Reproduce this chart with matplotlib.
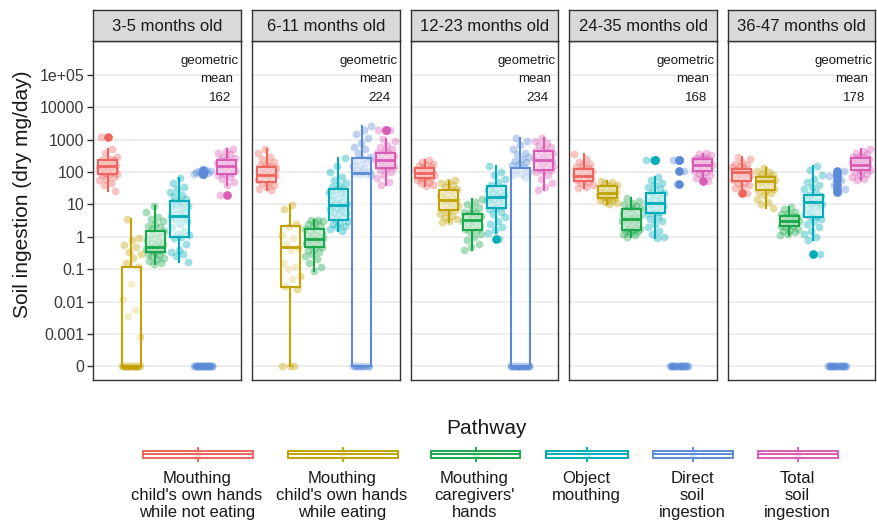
import numpy as np
import matplotlib
matplotlib.use("Agg")
import matplotlib.pyplot as plt
from matplotlib.patches import Rectangle

plt.rcParams['font.family'] = ['Liberation Sans', 'DejaVu Sans']

# ---------------- data ----------------
age_groups = ["3-5 months old", "6-11 months old", "12-23 months old",
              "24-35 months old", "36-47 months old"]
pathways = ["Mouthing\nchild's own hands\nwhile not eating",
            "Mouthing\nchild's own hands\nwhile eating",
            "Mouthing\ncaregivers'\nhands",
            "Object\nmouthing",
            "Direct\nsoil\ningestion",
            "Total\nsoil\ningestion"]
geo_means = [162, 224, 234, 168, 178]
y_ticks = [0, 0.001, 0.01, 0.1, 1, 10, 100, 1000, 10000, 100000]
y_tick_labels = ["0", "0.001", "0.01", "0.1", "1", "10", "100", "1000", "10000", "1e+05"]

# individual values (dry mg/day), per pathway, per age group
values_3_5m = [
    [1200, 500, 380, 300, 260, 240, 230, 210, 200, 190, 180, 170, 160, 155, 150, 145, 140,
     130, 125, 120, 115, 110, 100, 95, 90, 88, 80, 70, 60, 55, 45, 40, 26],
    [3.6, 0.9, 0.8, 0.55, 0.5, 0.35, 0.3, 0.22, 0.15, 0.12, 0.035, 0.012, 0.0055, 0.0035,
     0.0008, 0, 0, 0, 0, 0, 0, 0, 0, 0, 0, 0, 0, 0, 0, 0, 0, 0, 0, 0, 0],
    [9, 6, 4, 3.5, 3, 2.5, 2.2, 2, 1.8, 1.5, 1.3, 1.1, 1, 0.9, 0.8, 0.7, 0.65, 0.6, 0.55,
     0.5, 0.48, 0.45, 0.42, 0.4, 0.38, 0.36, 0.34, 0.3, 0.27, 0.25, 0.22, 0.2, 0.18, 0.16, 0.14],
    [65, 45, 35, 30, 25, 20, 18, 15, 13, 12, 11, 10, 9, 8, 7, 6, 5, 4.5, 4, 3.5, 3, 2.5, 2,
     1.5, 1.2, 1.1, 1, 0.9, 0.6, 0.4, 0.35, 0.3, 0.25, 0.17],
    [120, 110, 105, 100, 100, 95, 90, 85, 0, 0, 0, 0, 0, 0, 0, 0, 0, 0, 0, 0, 0, 0, 0, 0,
     0, 0, 0, 0, 0, 0, 0, 0],
    [515, 450, 380, 350, 300, 270, 250, 230, 210, 200, 190, 180, 170, 160, 150, 145, 140,
     130, 120, 110, 100, 95, 90, 80, 70, 60, 50, 40, 19],
]
values_6_11m = [
    [510, 400, 300, 250, 200, 180, 160, 150, 140, 130, 125, 120, 110, 100, 95, 90, 85, 80,
     75, 70, 65, 60, 55, 50, 45, 40, 35, 30, 28],
    [9.8, 7, 2.5, 2, 1.1, 0.9, 0.6, 0.45, 0.4, 0.15, 0.12, 0.1, 0.06, 0.05, 0.03, 0.025,
     0, 0, 0],
    [3.4, 3.2, 3, 2.8, 2.5, 2.2, 2, 1.8, 1.6, 1.5, 1.3, 1.2, 1.1, 1, 0.95, 0.9, 0.85, 0.8,
     0.75, 0.7, 0.65, 0.6, 0.55, 0.5, 0.45, 0.4, 0.35, 0.3, 0.25, 0.2, 0.15, 0.12, 0.085],
    [270, 150, 100, 70, 55, 45, 40, 35, 30, 28, 25, 22, 20, 18, 15, 14, 12, 11, 10, 9.5, 9,
     8.5, 8, 7, 6.5, 6, 5.5, 5, 4.5, 4, 3.5, 3, 2.7, 2.5, 2.2, 2, 1.8, 1.5],
    [2600, 2000, 1500, 1100, 800, 600, 500, 400, 300, 250, 220, 200, 170, 150, 130, 120,
     110, 100, 95, 90, 85, 80, 0, 0, 0, 0, 0, 0, 0, 0, 0, 0],
    [2000, 2000, 1050, 900, 700, 600, 500, 450, 400, 380, 350, 320, 300, 280, 260, 240, 230,
     220, 200, 190, 180, 170, 160, 150, 140, 130, 120, 100, 80, 65, 50, 40],
]
values_12_23m = [
    [240, 200, 180, 160, 150, 140, 130, 120, 115, 110, 105, 100, 95, 90, 85, 80, 75, 70, 65,
     60, 55, 50, 45, 40, 36],
    [55, 50, 45, 40, 35, 30, 28, 25, 22, 20, 18, 16, 15, 14, 13, 12, 11, 10, 9, 8, 7, 6.5, 6,
     5, 4.5, 4, 3.5, 3, 2.8],
    [15, 12, 10, 8, 7, 6, 5.5, 5, 4.5, 4, 3.8, 3.5, 3.2, 3, 2.8, 2.5, 2.2, 2, 1.8, 1.6, 1.4,
     1.2, 1, 0.8, 0.6, 0.5, 0.4],
    [150, 100, 80, 60, 50, 40, 35, 30, 28, 25, 22, 20, 18, 17, 16, 15, 14, 12, 10, 9, 8, 7,
     6, 5, 4, 3, 2.5, 2, 1.6, 1.3, 0.87],
    [1150, 900, 700, 500, 400, 350, 300, 250, 220, 200, 180, 160, 140, 120, 100, 90, 80, 70,
     0, 0, 0, 0, 0, 0, 0, 0, 0, 0, 0, 0, 0, 0, 0, 0, 0, 0, 0, 0, 0, 0, 0],
    [1130, 900, 800, 700, 600, 500, 450, 420, 400, 380, 350, 320, 300, 280, 260, 240, 230,
     220, 200, 190, 180, 160, 150, 140, 130, 120, 110, 100, 80, 60, 45, 35, 28],
]
values_24_35m = [
    [360, 250, 200, 180, 160, 140, 130, 120, 110, 100, 95, 90, 85, 80, 75, 70, 65, 60, 55,
     50, 45, 40, 35, 32],
    [52, 48, 45, 40, 38, 35, 33, 30, 28, 26, 25, 24, 23, 22, 21, 20, 19, 18, 17, 16, 15, 14,
     13, 12, 11, 10],
    [16, 13, 11, 10, 9, 8, 7.5, 7, 6.5, 6, 5.5, 5, 4.5, 4.2, 4, 3.8, 3.6, 3.4, 3.2, 3, 2.8,
     2.6, 2.4, 2.2, 2, 1.9, 1.8, 1.7, 1.6, 1.5, 1.4, 1.3, 1.2, 1.1, 1.0],
    [230, 230, 70, 55, 45, 40, 35, 30, 25, 22, 20, 18, 16, 14, 12, 11, 10, 9, 8, 7, 6, 5.5,
     5, 4, 3.5, 3, 2.5, 2, 1.5, 1.2, 1, 0.9],
    [230, 230, 105, 43, 0, 0, 0, 0, 0, 0, 0, 0, 0, 0, 0, 0, 0, 0, 0, 0, 0, 0, 0, 0],
    [400, 360, 330, 300, 280, 260, 250, 240, 230, 220, 210, 200, 190, 180, 170, 160, 150,
     140, 130, 120, 110, 100, 90, 80, 70, 65, 54],
]
values_36_47m = [
    [300, 250, 200, 180, 160, 150, 140, 130, 120, 110, 100, 95, 90, 85, 80, 75, 70, 65, 60,
     55, 50, 45, 40, 35, 32, 22],
    [130, 110, 100, 90, 80, 75, 70, 65, 60, 55, 52, 50, 48, 45, 42, 40, 35, 30, 27, 25, 22,
     20, 15, 12, 10, 7.8],
    [8.3, 7, 6, 5.5, 5, 4.5, 4.2, 4, 3.8, 3.6, 3.4, 3.2, 3.0, 2.9, 2.8, 2.6, 2.4, 2.2, 2.1,
     2, 1.8, 1.6, 1.5, 1.4, 1.2, 1.1],
    [150, 120, 80, 60, 50, 40, 35, 30, 25, 20, 18, 16, 14, 12, 11, 10, 9, 8, 7, 6, 5, 4.5, 4,
     3.5, 3, 2.5, 2, 1.5, 1.2, 1, 0.8, 0.29],
    [105, 90, 75, 55, 40, 30, 25, 0, 0, 0, 0, 0, 0, 0, 0, 0, 0, 0, 0, 0, 0, 0, 0, 0, 0,
     0, 0],
    [510, 450, 400, 350, 320, 300, 280, 260, 250, 240, 230, 220, 210, 200, 190, 180, 170,
     160, 150, 140, 130, 120, 110, 100, 90, 80, 70, 60, 55],
]

# box statistics: (whisker low, q1, median, q3, whisker high)
box_3_5m = [(26, 87, 150, 240, 500), (0, 0, 0, 0.115, 3.6), (0.14, 0.35, 0.5, 1.5, 9),
            (0.17, 1, 4.3, 13, 65), (0, 0, 0, 0, 0), (40, 87, 150, 240, 515)]
box_6_11m = [(28, 51, 83, 141, 510), (0, 0.029, 0.47, 2.1, 9.8), (0.085, 0.48, 0.87, 1.8, 3.4),
             (1.46, 3.4, 9.4, 30, 270), (0, 0, 94, 270, 2600), (40, 132, 230, 390, 1050)]
box_12_23m = [(36, 65, 93, 130, 240), (2.8, 6.5, 14, 28, 52), (0.4, 1.65, 3.4, 5.2, 15),
              (1.3, 7.7, 17, 36, 150), (0, 0, 0, 138, 1120), (28, 117, 230, 435, 1130)]
box_24_35m = [(32, 52, 77, 124, 360), (10, 16, 23, 36, 52), (1.0, 1.66, 3.6, 7.2, 16),
              (0.9, 5.6, 11, 22, 70), (0, 0, 0, 0, 0), (65, 105, 160, 250, 360)]
box_36_47m = [(32, 52, 97, 124, 300), (7.8, 27, 52, 70, 130), (1.15, 2.1, 3.0, 4.3, 8.3),
              (0.8, 4, 12, 19, 150), (0, 0, 0, 0, 0), (55, 117, 170, 270, 510)]

fliers_3_5m = [[1200], [], [], [], [120, 110, 105, 100, 100, 95, 90, 85], [19]]
fliers_6_11m = [[], [], [], [], [], [2000, 2000]]
fliers_12_23m = [[], [], [], [0.87], [], []]
fliers_24_35m = [[], [], [], [230, 230], [230, 230, 105, 43], [54]]
fliers_36_47m = [[22], [], [], [0.29], [105, 90, 75, 55, 40, 30, 25], []]

all_values = [values_3_5m, values_6_11m, values_12_23m, values_24_35m, values_36_47m]
all_boxes = [box_3_5m, box_6_11m, box_12_23m, box_24_35m, box_36_47m]
all_fliers = [fliers_3_5m, fliers_6_11m, fliers_12_23m, fliers_24_35m, fliers_36_47m]

colors = ["#EE645E", "#C2A200", "#1AA84B", "#00ACB7", "#5B8BD8", "#D95CB6"]

# ---------------- scale: log10 with 0 shown at the 1e-4 position ----------------
def fwd(v):
    v = np.asarray(v, dtype=float)
    return np.where(v >= 1e-4, np.log10(np.maximum(v, 1e-4)), -4 + (v - 1e-4))

def inv(y):
    y = np.asarray(y, dtype=float)
    return np.where(y >= -4, 10 ** np.minimum(y, 300), (y + 4) + 1e-4)

W, H = 877, 524
fig = plt.figure(figsize=(W / 100, H / 100), dpi=100)

# legend / overlay axes in pixel coordinates
lax = fig.add_axes([0, 0, 1, 1])
lax.set_xlim(0, W)
lax.set_ylim(H, 0)
lax.axis('off')

lefts = [93.3, 252.3, 410.5, 569.3, 727.5]
pw = 147.7
ptop, pbot = 41, 379.5
strip_top = 9.5

grid_col = "#EBEBEB"
dark = "#333333"
PT_S = 32
PT_A = 0.38

for k in range(5):
    ax = fig.add_axes([lefts[k] / W, 1 - pbot / H, pw / W, (pbot - ptop) / H])
    ax.set_yscale('function', functions=(fwd, inv))
    ax.set_xlim(0.4, 6.6)
    ax.set_ylim(float(inv(-4.41)), float(inv(6.05)))
    ax.set_yticks(y_ticks)
    ax.yaxis.set_minor_locator(matplotlib.ticker.NullLocator())
    ax.set_xticks([])
    ax.grid(axis='y', color=grid_col, linewidth=1.2, zorder=0)
    ax.set_axisbelow(True)
    for sp in ax.spines.values():
        sp.set_color(dark)
        sp.set_linewidth(1.0)
    if k == 0:
        ax.set_yticklabels(y_tick_labels, fontsize=11.5, color="#3a3a3a")
        ax.tick_params(axis='y', length=4, width=1.0, color=dark, pad=2.5)
    else:
        ax.tick_params(axis='y', left=False, labelleft=False)

    vals = all_values[k]
    for j in range(6):
        v = np.array(vals[j], dtype=float)
        n = len(v)
        offs = ((np.arange(n) * 0.6180339887 + 0.137 * (j + 1) + 0.29 * k) % 1.0 - 0.5) * 0.8
        ax.scatter(j + 1 + offs, v, s=PT_S, color=colors[j], alpha=PT_A,
                   linewidths=0, zorder=2)

    for j in range(6):
        s = all_boxes[k][j]
        c = colors[j]
        st = dict(whislo=s[0], q1=s[1], med=s[2], q3=s[3], whishi=s[4],
                  fliers=all_fliers[k][j])
        ax.bxp([st], positions=[j + 1], widths=0.8, patch_artist=True,
               showcaps=False, manage_ticks=False,
               boxprops=dict(facecolor=(1, 1, 1, 0.5), edgecolor=c, linewidth=1.5),
               whiskerprops=dict(color=c, linewidth=1.5),
               medianprops=dict(color=c, linewidth=2.0),
               flierprops=dict(marker='o', markerfacecolor=c, markeredgecolor=c,
                               markersize=5.2, linestyle='none'),
               zorder=3)

    # geometric mean annotation
    tr = ax.get_yaxis_transform()
    ax.text(1 - 2.5 / pw, float(inv(5.43)), "geometric", transform=tr, ha='right',
            va='center', fontsize=9.5, color="#1a1a1a", zorder=5)
    ax.text(1 - 7.5 / pw, float(inv(4.87)), "mean", transform=tr, ha='right',
            va='center', fontsize=9.5, color="#1a1a1a", zorder=5)
    ax.text(1 - 10 / pw, float(inv(4.28)), str(geo_means[k]), transform=tr, ha='right',
            va='center', fontsize=9.5, color="#1a1a1a", zorder=5)

    # strip
    sax = fig.add_axes([lefts[k] / W, 1 - ptop / H, pw / W, (ptop - strip_top) / H])
    sax.set_facecolor("#D9D9D9")
    sax.set_xticks([])
    sax.set_yticks([])
    for sp in sax.spines.values():
        sp.set_color(dark)
        sp.set_linewidth(1.0)
    sax.text(0.5, 0.47, age_groups[k], ha='center', va='center', fontsize=12,
             color="#1a1a1a", transform=sax.transAxes)

# y label
fig.text(23 / W, 1 - 194 / H, "Soil ingestion (dry mg/day)", rotation=90,
         ha='center', va='center', fontsize=15, color="#1a1a1a")

# legend
lax.text(487, 429, "Pathway", ha='center', va='center', fontsize=15, color="#1a1a1a")
key_x = [(143, 253), (288, 398), (431, 520), (546, 628), (653, 733), (758, 838)]
ky0, ky1, kmid = 450.7, 457.7, 454.2
for j, (x0, x1) in enumerate(key_x):
    c = colors[j]
    cx = (x0 + x1) / 2
    lax.scatter([cx], [kmid], s=PT_S, color=c, alpha=PT_A, linewidths=0, zorder=2)
    lax.add_patch(Rectangle((x0, ky0), x1 - x0, ky1 - ky0, facecolor=(1, 1, 1, 0.5),
                            edgecolor=c, linewidth=1.4, zorder=3))
    lax.plot([x0, x1], [kmid, kmid], color=c, linewidth=1.4, zorder=3)
    lax.plot([cx, cx], [448, ky0], color=c, linewidth=1.4, zorder=3)
    lax.plot([cx, cx], [ky1, 460.7], color=c, linewidth=1.4, zorder=3)
    lax.text(cx - 1, 471, pathways[j], ha='center', va='top', fontsize=12,
             color="#1a1a1a", linespacing=1.15)

fig.savefig("out.png", dpi=100)
